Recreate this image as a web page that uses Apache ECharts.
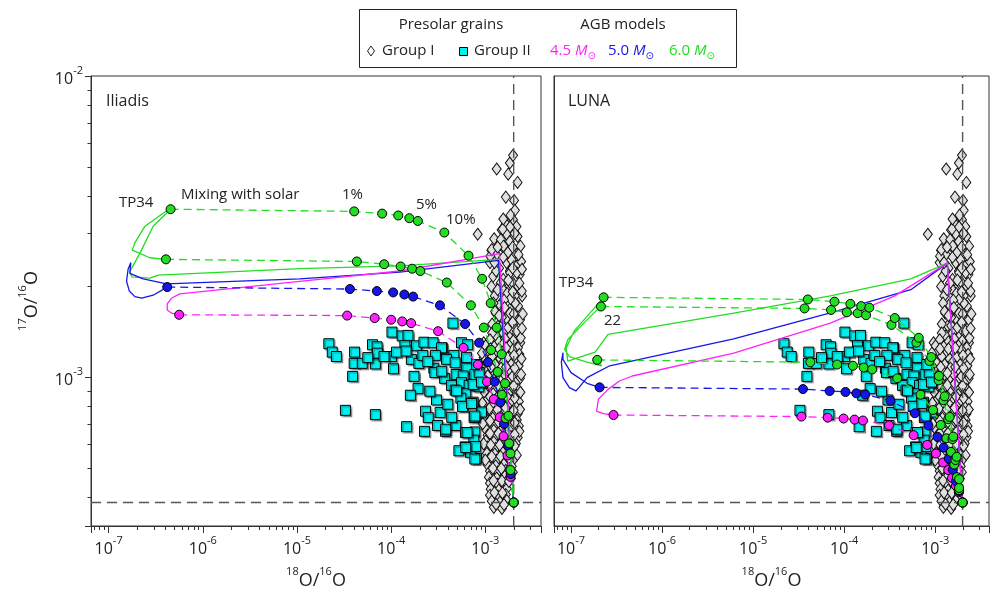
<!DOCTYPE html>
<html>
<head>
<meta charset="utf-8">
<script src="https://cdn.jsdelivr.net/npm/echarts@6/dist/echarts.min.js"></script>
<style>
  html, body { margin: 0; padding: 0; background: #fff; }
  #chart { width: 992px; height: 595px; }
</style>
</head>
<body>
<div id="chart"></div>
<script>
const FONT = '"Open Sans", "DejaVu Sans", sans-serif';
const TEXT = '#222';
const AXIS_COLOR = '#333';
const GREEN = '#22dd22';
const BLUE = '#1616e8';
const MAGENTA = '#ff22ff';
const CYAN = '#00f0f0';

// axis ranges
const X_MIN = 6.5e-8, X_MAX = 3.9e-3;
const Y_MIN = 3.2e-4, Y_MAX = 1e-2;
const SOLAR_18 = 2.0e-3, SOLAR_17 = 3.83e-4;

// presolar grains: [18O/16O, 17O/16O]
const groupI = [
  [1.82e-3,5.14e-3],[1.97e-3,5.45e-3],[1.32e-3,4.91e-3],[1.75e-3,4.72e-3],[2.20e-3,4.43e-3],
  [1.65e-3,3.96e-3],[2.02e-3,3.86e-3],[2.06e-3,3.58e-3],[8.3e-4,2.98e-3],
  [1.65e-3,3.22e-3],[1.97e-3,3.33e-3],[2.14e-3,3.16e-3],[1.49e-3,3.08e-3],[1.24e-3,2.88e-3],
  [1.68e-3,2.99e-3],[2.20e-3,2.93e-3],[1.43e-3,2.75e-3],[1.82e-3,2.82e-3],[2.36e-3,2.72e-3],
  [1.16e-3,2.63e-3],[1.31e-3,2.55e-3],[1.61e-3,2.65e-3],[2.06e-3,2.59e-3],[1.12e-3,2.40e-3],
  [1.68e-3,2.40e-3],[2.14e-3,2.33e-3],[1.82e-3,2.25e-3],[1.21e-3,2.16e-3],[2.32e-3,2.19e-3],
  [1.55e-3,2.11e-3],[1.97e-3,2.05e-3],[1.16e-3,2.00e-3],[2.23e-3,2.00e-3],[1.68e-3,1.95e-3],
  [2.46e-3,1.86e-3],[1.26e-3,1.86e-3],[2.06e-3,1.86e-3],[1.43e-3,1.74e-3],[1.82e-3,1.68e-3],
  [2.23e-3,1.72e-3],[1.29e-3,1.63e-3],[1.68e-3,1.57e-3],[2.14e-3,1.55e-3],[1.37e-3,1.48e-3],
  [1.90e-3,1.42e-3],[1.31e-3,1.37e-3],[2.14e-3,1.385e-3],
  [1.53e-3,3.10e-3],[1.83e-3,3.15e-3],[1.46e-3,2.86e-3],[1.56e-3,2.72e-3],[1.99e-3,2.55e-3],
  [1.83e-3,2.22e-3],[2.16e-3,2.22e-3],[2.44e-3,1.93e-3],[1.69e-3,1.90e-3],[2.07e-3,1.76e-3],
  [1.22e-3,1.76e-3],[1.27e-3,1.65e-3],[1.83e-3,1.63e-3],[2.34e-3,1.55e-3],[1.50e-3,1.48e-3],
  [2.16e-3,1.42e-3],[1.76e-3,1.37e-3],[1.13e-3,2.52e-3],[1.17e-3,2.65e-3],
  [1.55e-3,2.50e-3],[1.90e-3,2.45e-3],[1.40e-3,2.30e-3],[2.40e-3,2.42e-3],[1.50e-3,1.97e-3],
  [1.85e-3,1.82e-3],[1.58e-3,1.80e-3],[2.00e-3,1.62e-3],[1.50e-3,1.58e-3],[1.18e-3,1.50e-3],
  [1.72e-3,1.45e-3],[2.35e-3,1.30e-3],[9.6e-4,1.30e-3],
  [1.30e-3,2.25e-3],[1.95e-3,2.30e-3],[1.45e-3,2.05e-3],[1.75e-3,2.10e-3],[1.35e-3,1.95e-3],
  [1.95e-3,1.92e-3],[1.60e-3,1.70e-3],[1.40e-3,1.60e-3],[1.95e-3,1.52e-3],[1.55e-3,1.40e-3],
  [1.18e-3,1.40e-3],[2.30e-3,2.05e-3],[2.45e-3,2.28e-3],[1.25e-3,2.40e-3],[1.75e-3,2.60e-3],
  [2.25e-3,2.55e-3],[1.35e-3,2.70e-3],[1.95e-3,2.70e-3],[2.05e-3,3.00e-3],[1.85e-3,3.45e-3],
  [1.55e-3,3.35e-3],
  [1.12e-3,1.33e-3],[1.40e-3,1.31e-3],[1.62e-3,1.34e-3],[1.98e-3,1.32e-3],[2.38e-3,1.35e-3],
  [1.01e-3,1.27e-3],[1.24e-3,1.26e-3],[1.52e-3,1.28e-3],[1.80e-3,1.27e-3],[2.22e-3,1.25e-3],
  [1.09e-3,1.22e-3],[1.33e-3,1.20e-3],[1.60e-3,1.21e-3],[1.95e-3,1.23e-3],[2.30e-3,1.19e-3],
  [9.6e-4,1.16e-3],[1.18e-3,1.17e-3],[1.44e-3,1.15e-3],[1.72e-3,1.16e-3],[2.12e-3,1.14e-3],
  [1.04e-3,1.11e-3],[1.27e-3,1.10e-3],[1.55e-3,1.12e-3],[1.88e-3,1.10e-3],[2.26e-3,1.09e-3],
  [9.9e-4,1.06e-3],[1.20e-3,1.05e-3],[1.47e-3,1.07e-3],[1.78e-3,1.05e-3],[2.15e-3,1.04e-3],
  [1.06e-3,1.01e-3],[1.30e-3,1.00e-3],[1.58e-3,1.02e-3],[1.92e-3,1.00e-3],[2.33e-3,9.9e-4],
  [9.5e-4,9.7e-4],[1.17e-3,9.6e-4],[1.43e-3,9.75e-4],[1.74e-3,9.6e-4],[2.10e-3,9.55e-4],
  [1.04e-3,9.25e-4],[1.26e-3,9.2e-4],[1.54e-3,9.3e-4],[1.86e-3,9.15e-4],[2.22e-3,9.1e-4],
  [9.9e-4,8.85e-4],[1.21e-3,8.8e-4],[1.46e-3,8.9e-4],[1.79e-3,8.75e-4],[2.12e-3,8.7e-4],
  [1.06e-3,8.45e-4],[1.29e-3,8.4e-4],[1.57e-3,8.5e-4],[1.91e-3,8.35e-4],[2.27e-3,8.3e-4],
  [9.6e-4,8.05e-4],[1.17e-3,8.0e-4],[1.43e-3,8.1e-4],[1.73e-3,7.98e-4],[2.11e-3,7.95e-4],
  [1.04e-3,7.7e-4],[1.26e-3,7.65e-4],[1.53e-3,7.75e-4],[1.87e-3,7.6e-4],[2.21e-3,7.55e-4],
  [9.9e-4,7.35e-4],[1.20e-3,7.3e-4],[1.46e-3,7.4e-4],[1.78e-3,7.25e-4],[2.16e-3,7.2e-4],
  [1.06e-3,7.0e-4],[1.29e-3,6.95e-4],[1.57e-3,7.05e-4],[1.91e-3,6.9e-4],[2.27e-3,6.88e-4],
  [1.01e-3,6.71e-4],[1.23e-3,6.65e-4],[1.50e-3,6.75e-4],[1.82e-3,6.62e-4],[2.16e-3,6.6e-4],
  [1.06e-3,6.41e-4],[1.29e-3,6.36e-4],[1.57e-3,6.45e-4],[1.91e-3,6.33e-4],[2.21e-3,6.3e-4],
  [1.01e-3,6.13e-4],[1.23e-3,6.08e-4],[1.50e-3,6.16e-4],[1.82e-3,6.05e-4],[2.11e-3,6.02e-4],
  [1.06e-3,5.85e-4],[1.29e-3,5.8e-4],[1.57e-3,5.88e-4],[1.91e-3,5.78e-4],
  [1.04e-3,5.58e-4],[1.26e-3,5.55e-4],[1.53e-3,5.62e-4],[1.87e-3,5.52e-4],[2.16e-3,5.5e-4],
  [1.09e-3,5.34e-4],[1.32e-3,5.3e-4],[1.61e-3,5.37e-4],[1.96e-3,5.28e-4],
  [1.06e-3,5.1e-4],[1.29e-3,5.07e-4],[1.57e-3,5.13e-4],[1.91e-3,5.05e-4],
  [1.12e-3,4.87e-4],[1.36e-3,4.84e-4],[1.65e-3,4.9e-4],[1.96e-3,4.83e-4],
  [1.09e-3,4.65e-4],[1.32e-3,4.62e-4],[1.61e-3,4.68e-4],[1.87e-3,4.6e-4],
  [1.12e-3,4.44e-4],[1.36e-3,4.41e-4],[1.65e-3,4.46e-4],
  [1.14e-3,4.24e-4],[1.39e-3,4.21e-4],[1.69e-3,4.26e-4],
  [1.12e-3,4.05e-4],[1.36e-3,4.02e-4],[1.65e-3,4.07e-4],
  [1.17e-3,3.87e-4],[1.43e-3,3.84e-4],[1.69e-3,3.89e-4],
  [1.23e-3,3.69e-4],[1.50e-3,3.66e-4],
  [2.50e-3,1.62e-3],[2.45e-3,1.45e-3],[2.42e-3,1.15e-3],[2.40e-3,1.02e-3],[2.36e-3,8.9e-4],
  [2.34e-3,7.8e-4],[2.30e-3,6.6e-4],[9.2e-4,1.20e-3],[9.0e-4,1.08e-3],[9.1e-4,9.3e-4],
  [9.3e-4,8.2e-4],[9.4e-4,7.0e-4],[9.6e-4,6.0e-4],[1.0e-3,5.3e-4],
  [1.13e-3,1.24e-3],[1.40e-3,1.24e-3],[1.66e-3,1.25e-3],[2.02e-3,1.18e-3],[1.15e-3,1.08e-3],
  [1.36e-3,1.03e-3],[1.66e-3,1.08e-3],[2.05e-3,1.07e-3],[1.10e-3,9.45e-4],[1.36e-3,9.4e-4],
  [1.64e-3,9.5e-4],[2.00e-3,9.35e-4],[1.12e-3,8.6e-4],[1.36e-3,8.6e-4],[1.70e-3,8.6e-4],
  [2.05e-3,8.5e-4],[1.10e-3,7.85e-4],[1.34e-3,7.8e-4],[1.64e-3,7.9e-4],[2.00e-3,7.75e-4],
  [1.12e-3,7.15e-4],[1.38e-3,7.1e-4],[1.70e-3,7.2e-4],[2.05e-3,7.05e-4],[1.12e-3,6.5e-4],
  [1.38e-3,6.5e-4],[1.70e-3,6.55e-4],[2.05e-3,6.45e-4],[1.14e-3,5.95e-4],[1.42e-3,5.95e-4],
  [1.72e-3,6.0e-4],[2.05e-3,5.9e-4],[1.17e-3,5.45e-4],[1.45e-3,5.45e-4],[1.78e-3,5.4e-4],
  [1.20e-3,4.97e-4],[1.48e-3,4.97e-4],[1.80e-3,4.95e-4],[1.22e-3,4.53e-4],[1.50e-3,4.52e-4],
  [1.78e-3,4.5e-4],[1.25e-3,4.13e-4],[1.52e-3,4.12e-4],[1.30e-3,3.78e-4],[1.58e-3,3.77e-4]
];

const groupII = [
  [4.53e-4,1.51e-3],[1.02e-4,1.41e-3],[1.31e-4,1.37e-3],[1.51e-4,1.375e-3],[2.18e-5,1.29e-3],
  [2.37e-5,1.21e-3],[2.62e-5,1.17e-3],[4.09e-5,1.21e-3],[6.34e-5,1.28e-3],[7.09e-5,1.26e-3],
  [7.15e-5,1.20e-3],[4.05e-5,1.11e-3],[4.94e-5,1.11e-3],[6.8e-5,1.105e-3],[3.9e-5,1.005e-3],
  [1.06e-4,1.065e-3],[1.01e-4,1.17e-3],[1.40e-4,1.27e-3],[1.86e-4,1.27e-3],[2.23e-4,1.305e-3],
  [2.79e-4,1.30e-3],[3.48e-4,1.25e-3],[5.58e-4,1.30e-3],[1.64e-4,1.145e-3],[1.97e-4,1.11e-3],
  [2.17e-4,1.18e-3],[1.14e-4,1.21e-3],[1.44e-4,1.22e-3],[4.64e-4,1.18e-3],[6.32e-4,1.16e-3],
  [3.87e-4,1.145e-3],[4.78e-4,1.115e-3],[2.84e-4,1.07e-3],[2.91e-4,1.035e-3],[3.70e-4,9.9e-4],
  [4.90e-4,1.02e-3],[6.36e-4,1.07e-3],[7.74e-4,1.02e-3],[5.82e-4,1.008e-3],[4.38e-4,9.38e-4],
  [5.58e-4,9.58e-4],[6.73e-4,9.38e-4],[8.53e-4,9.28e-4],[9.2e-4,9.7e-4],[4.78e-4,9.05e-4],
  [6.2e-4,8.8e-4],[5.5e-4,8.51e-4],[7.42e-4,8.25e-4],[5.78e-4,8.0e-4],[9.1e-4,7.65e-4],
  [7.6e-4,7.33e-4],[1.93e-4,9.15e-4],[1.60e-4,8.7e-4],[3.03e-4,8.39e-4],[2.32e-4,7.7e-4],
  [3.31e-4,7.62e-4],[2.48e-4,7.33e-4],[3.11e-4,6.9e-4],[3.78e-4,6.6e-4],[4.86e-4,6.9e-4],
  [2.26e-4,6.6e-4],[1.46e-4,6.84e-4],[3.27e-5,7.75e-4],[6.8e-5,7.5e-4],[6.15e-4,6.54e-4],
  [7.74e-4,6.57e-4],[7.55e-4,6.17e-4],[6.1e-4,5.86e-4],[5.24e-4,5.69e-4],[8.05e-4,5.37e-4],
  [6.97e-4,5.62e-4],[3.43e-4,1.25e-3],[8.6e-4,1.035e-3],[4.95e-4,9.0e-4],[7.42e-4,9.45e-4],
  [7.74e-4,7.42e-4],[5.73e-4,7.98e-4],[3.80e-4,6.71e-4],[6.4e-4,6.54e-4],[7.9e-4,5.88e-4],
  [6.2e-4,5.83e-4],[7.74e-4,5.34e-4],[7.15e-4,8.17e-4],[9.1e-4,9.62e-4],[8.1e-4,1.10e-3],
  [6.5e-4,1.28e-3],[2.95e-4,1.18e-3],[2.45e-4,1.125e-3],[8.4e-5,1.17e-3],[5.65e-5,1.16e-3],
  [4.0e-4,8.12e-4],[4.4e-4,7.35e-4],[2.58e-4,8.97e-4],[3.45e-4,1.045e-3],[1.75e-4,1.005e-3]
];

// Iliadis rates: AGB surface evolution
const ili60Track = [
  [2.0e-3,3.83e-4],[1.37e-3,2.46e-3],[1.24e-4,2.34e-3],[1.07e-5,2.29e-3],[3.36e-7,2.18e-3],
  [2.74e-7,2.13e-3],[1.77e-7,2.15e-3],[1.68e-7,2.24e-3],[2.15e-7,2.58e-3],[2.97e-7,3.17e-3],
  [4.55e-7,3.61e-3],[4.13e-7,3.57e-3],[2.43e-7,3.17e-3],[1.90e-7,2.79e-3],[1.78e-7,2.64e-3],
  [2.74e-7,2.49e-3],[4.06e-7,2.46e-3]
];
const ili50Track = [
  [2.0e-3,3.83e-4],[1.38e-3,2.44e-3],[1.24e-4,2.23e-3],[1.07e-5,2.12e-3],[4.13e-7,2.04e-3],
  [2.33e-7,2.12e-3],[1.68e-7,2.21e-3],[1.72e-7,2.40e-3],[1.61e-7,2.28e-3],[1.55e-7,2.08e-3],
  [1.66e-7,1.93e-3],[1.90e-7,1.85e-3],[2.24e-7,1.83e-3],[2.97e-7,1.87e-3],[4.19e-7,1.99e-3]
];
const ili45Track = [
  [2.0e-3,3.83e-4],[1.41e-3,2.57e-3],[1.24e-4,2.25e-3],[1.07e-5,2.08e-3],[5.71e-7,1.89e-3],
  [4.67e-7,1.83e-3],[4.19e-7,1.75e-3],[4.2e-7,1.67e-3],[4.67e-7,1.63e-3],[5.61e-7,1.61e-3]
];
// Iliadis rates: mixing with solar (1,2,3,4,5,10,...,90 %)
const ili60MixA = [
  [4.55e-7,3.61e-3],[4.05e-5,3.55e-3],[8.02e-5,3.49e-3],[1.19e-4,3.44e-3],[1.56e-4,3.37e-3],
  [1.92e-4,3.30e-3],[3.67e-4,3.02e-3],[6.63e-4,2.53e-3],[9.25e-4,2.12e-3],[1.14e-3,1.76e-3],
  [1.32e-3,1.46e-3],[1.49e-3,1.19e-3],[1.62e-3,9.53e-4],[1.76e-3,7.43e-4],[1.85e-3,5.57e-4],
  [2.0e-3,3.83e-4]
];
const ili60MixB = [
  [4.06e-7,2.46e-3],[4.32e-5,2.42e-3],[8.43e-5,2.37e-3],[1.26e-4,2.33e-3],[1.67e-4,2.29e-3],
  [2.04e-4,2.25e-3],[3.90e-4,2.06e-3],[7.02e-4,1.73e-3],[9.64e-4,1.46e-3],[1.15e-3,1.23e-3],
  [1.35e-3,1.04e-3],[1.50e-3,8.74e-4],[1.64e-3,7.30e-4],[1.79e-3,6.02e-4],[1.85e-3,4.91e-4],
  [2.0e-3,3.83e-4]
];
const ili50Mix = [
  [4.19e-7,1.99e-3],[3.65e-5,1.96e-3],[7.05e-5,1.93e-3],[1.05e-4,1.91e-3],[1.38e-4,1.88e-3],
  [1.71e-4,1.85e-3],[3.30e-4,1.73e-3],[6.10e-4,1.50e-3],[8.60e-4,1.30e-3],[1.07e-3,1.12e-3],
  [1.26e-3,9.65e-4],[1.44e-3,8.24e-4],[1.58e-3,6.99e-4],[1.75e-3,5.90e-4],[1.86e-3,4.76e-4],
  [2.0e-3,3.83e-4]
];
const ili45Mix = [
  [5.61e-7,1.61e-3],[3.41e-5,1.60e-3],[6.68e-5,1.57e-3],[1.0e-4,1.55e-3],[1.31e-4,1.53e-3],
  [1.63e-4,1.51e-3],[3.15e-4,1.42e-3],[5.87e-4,1.25e-3],[8.32e-4,1.10e-3],[1.04e-3,9.65e-4],
  [1.23e-3,8.44e-4],[1.42e-3,7.35e-4],[1.56e-3,6.36e-4],[1.72e-3,5.49e-4],[1.85e-3,4.66e-4],
  [2.0e-3,3.83e-4]
];

// LUNA rates
const luna60Track = [
  [2.0e-3,3.83e-4],[1.36e-3,2.39e-3],[5.40e-4,2.12e-3],[7.05e-5,1.86e-3],[6.12e-6,1.63e-3],
  [2.55e-7,1.385e-3],[1.84e-7,1.21e-3],[9.2e-8,1.13e-3],[8.85e-8,1.25e-3],[1.08e-7,1.42e-3],
  [1.50e-7,1.59e-3],[2.28e-7,1.84e-3],[2.13e-7,1.72e-3],[1.38e-7,1.51e-3],[9.2e-8,1.33e-3],
  [8.5e-8,1.235e-3],[9.6e-8,1.17e-3],[1.50e-7,1.12e-3],[2.17e-7,1.09e-3],[1.94e-7,1.14e-3]
];
const luna50Track = [
  [2.0e-3,3.83e-4],[1.36e-3,2.39e-3],[5.40e-4,1.95e-3],[7.05e-5,1.635e-3],[6.12e-6,1.34e-3],
  [2.66e-7,1.09e-3],[1.50e-7,9.95e-4],[1.22e-7,9.22e-4],[1.13e-7,8.99e-4],[9.6e-8,9.22e-4],
  [8.15e-8,9.95e-4],[7.83e-8,1.12e-3],[8.15e-8,1.205e-3],[8.15e-8,1.145e-3],[1.0e-7,1.034e-3],
  [1.50e-7,9.53e-4],[2.06e-7,9.24e-4]
];
const luna45Track = [
  [2.0e-3,3.83e-4],[1.36e-3,2.39e-3],[3.60e-4,1.86e-3],[7.05e-5,1.51e-3],[6.12e-6,1.20e-3],
  [4.7e-7,1.008e-3],[3.40e-7,9.7e-4],[2.55e-7,9.1e-4],[2.0e-7,8.44e-4],[1.91e-7,7.71e-4],
  [2.26e-7,7.56e-4],[2.93e-7,7.48e-4]
];
const luna60MixA = [
  [2.28e-7,1.84e-3],[3.99e-5,1.81e-3],[7.83e-5,1.78e-3],[1.17e-4,1.75e-3],[1.54e-4,1.72e-3],
  [1.89e-4,1.70e-3],[3.60e-4,1.57e-3],[6.60e-4,1.35e-3],[9.07e-4,1.165e-3],[1.10e-3,1.008e-3],
  [1.27e-3,8.63e-4],[1.44e-3,7.37e-4],[1.58e-3,6.34e-4],[1.72e-3,5.43e-4],[1.83e-3,4.58e-4],
  [2.0e-3,3.83e-4]
];
const luna60MixB = [
  [2.13e-7,1.715e-3],[3.67e-5,1.69e-3],[7.18e-5,1.67e-3],[1.07e-4,1.64e-3],[1.41e-4,1.63e-3],
  [1.74e-4,1.605e-3],[3.31e-4,1.49e-3],[6.21e-4,1.30e-3],[8.64e-4,1.13e-3],[1.09e-3,9.75e-4],
  [1.23e-3,8.37e-4],[1.39e-3,7.24e-4],[1.55e-3,6.22e-4],[1.67e-3,5.30e-4],[1.83e-3,4.28e-4],
  [2.0e-3,3.83e-4]
];
const luna60MixC = [
  [1.94e-7,1.14e-3],[4.25e-5,1.12e-3],[8.36e-5,1.10e-3],[1.25e-4,1.09e-3],[1.64e-4,1.075e-3],
  [2.03e-4,1.06e-3],[3.83e-4,9.9e-4],[6.90e-4,8.73e-4],[9.48e-4,7.77e-4],[1.15e-3,6.93e-4],
  [1.33e-3,6.26e-4],[1.49e-3,5.64e-4],[1.62e-3,5.12e-4],[1.73e-3,4.65e-4],[1.83e-3,4.21e-4],
  [2.0e-3,3.83e-4]
];
const luna50Mix = [
  [2.06e-7,9.24e-4],[3.53e-5,9.12e-4],[6.93e-5,8.99e-4],[1.035e-4,8.92e-4],[1.36e-4,8.83e-4],
  [1.70e-4,8.75e-4],[3.23e-4,8.34e-4],[5.98e-4,7.58e-4],[8.43e-4,6.90e-4],[1.06e-3,6.33e-4],
  [1.24e-3,5.83e-4],[1.41e-3,5.36e-4],[1.56e-3,4.92e-4],[1.69e-3,4.51e-4],[1.82e-3,4.18e-4],
  [2.0e-3,3.83e-4]
];
const luna45Mix = [
  [2.93e-7,7.48e-4],[3.39e-5,7.39e-4],[6.60e-5,7.33e-4],[9.86e-5,7.28e-4],[1.30e-4,7.22e-4],
  [1.61e-4,7.17e-4],[3.11e-4,6.91e-4],[5.80e-4,6.41e-4],[8.18e-4,5.95e-4],[1.02e-3,5.57e-4],
  [1.22e-3,5.20e-4],[1.39e-3,4.91e-4],[1.53e-3,4.62e-4],[1.69e-3,4.35e-4],[1.82e-3,4.14e-4],
  [2.0e-3,3.83e-4]
];

// solar reference lines
const solarV = [[SOLAR_18, Y_MIN], [SOLAR_18, Y_MAX]];
const solarH = [[X_MIN, SOLAR_17], [X_MAX, SOLAR_17]];

// minor tick values 2..9 x 10^n
const minorX = [], minorY = [];
for (let e = -8; e <= -3; e++) for (let k = 2; k <= 9; k++) minorX.push(k * Math.pow(10, e));
for (let e = -4; e <= -3; e++) for (let k = 2; k <= 9; k++) minorY.push(k * Math.pow(10, e));

const POW_RICH = {
  b: { fontSize: 16, fontFamily: FONT, color: TEXT, lineHeight: 22, verticalAlign: 'bottom' },
  s: { fontSize: 11, fontFamily: FONT, color: TEXT, lineHeight: 12, verticalAlign: 'top' }
};
const NAME_RICH = {
  b: { fontSize: 18, fontFamily: FONT, color: TEXT, lineHeight: 24, verticalAlign: 'bottom' },
  s: { fontSize: 11, fontFamily: FONT, color: TEXT, lineHeight: 12, verticalAlign: 'top' }
};

function powLabel(v) {
  const e = Math.log10(v), r = Math.round(e);
  if (Math.abs(e - r) > 1e-6) return '';
  return '{b|10}{s|' + r + '}';
}

const gridLefts = [91, 554];

function xAxisFor(i) {
  return {
    type: 'log', logBase: 10, gridIndex: i, min: X_MIN, max: X_MAX,
    axisLine: { show: true, lineStyle: { color: AXIS_COLOR, width: 1 } },
    axisTick: { show: true, length: 7, lineStyle: { color: AXIS_COLOR } },
    axisLabel: { margin: 9, formatter: powLabel, rich: POW_RICH },
    splitLine: { show: false },
    name: '{s|18}{b|O/}{s|16}{b|O}', nameLocation: 'middle', nameGap: 40,
    nameTextStyle: { rich: NAME_RICH }
  };
}
function yAxisFor(i) {
  const left = i === 0;
  return {
    type: 'log', logBase: 10, gridIndex: i, min: Y_MIN, max: Y_MAX,
    axisLine: { show: true, lineStyle: { color: AXIS_COLOR, width: 1 } },
    axisTick: { show: left, length: 6, lineStyle: { color: AXIS_COLOR } },
    axisLabel: { show: left, margin: 8, formatter: powLabel, rich: POW_RICH, showMaxLabel: true },
    splitLine: { show: false },
    name: left ? '{s|17}{b|O/}{s|16}{b|O}' : '', nameLocation: 'middle', nameRotate: 90, nameGap: 50,
    nameTextStyle: { rich: NAME_RICH }
  };
}

function minorTicks(i, axis, values) {
  return {
    type: 'custom', xAxisIndex: i, yAxisIndex: i, silent: true, clip: false, z: 3,
    data: values.map(v => axis === 'x' ? [v, Y_MAX] : [X_MAX, v]),
    renderItem(params, api) {
      const cs = params.coordSys;
      const p = api.coord([api.value(0), api.value(1)]);
      if (axis === 'x') {
        if (p[0] <= cs.x + 0.5 || p[0] >= cs.x + cs.width) return null;
        const x = Math.round(p[0]) + 0.5, y0 = cs.y + cs.height;
        return { type: 'line', shape: { x1: x, y1: y0, x2: x, y2: y0 + 4 }, style: { stroke: AXIS_COLOR, lineWidth: 1 } };
      }
      if (p[1] <= cs.y || p[1] >= cs.y + cs.height - 0.5) return null;
      const y = Math.round(p[1]) + 0.5, x0 = cs.x;
      return { type: 'line', shape: { x1: x0, y1: y, x2: x0 - 3.5, y2: y }, style: { stroke: AXIS_COLOR, lineWidth: 1 } };
    }
  };
}

function refLine(i, data) {
  return { type: 'line', xAxisIndex: i, yAxisIndex: i, data, symbol: 'none', silent: true,
    lineStyle: { color: '#555', width: 1.4, type: [10, 6] } };
}
function grainSeries(i) {
  return [
    refLine(i, solarV), refLine(i, solarH),
    {
      type: 'scatter', xAxisIndex: i, yAxisIndex: i, data: groupI,
      symbol: 'diamond', symbolSize: [9, 12],
      itemStyle: { color: '#e0e0e0', borderColor: '#111', borderWidth: 1, opacity: 1 }
    },
    {
      type: 'scatter', xAxisIndex: i, yAxisIndex: i, data: groupII,
      symbol: 'rect', symbolSize: 10,
      itemStyle: { color: CYAN, borderColor: '#000', borderWidth: 1, opacity: 1,
        shadowColor: 'rgba(0,0,0,0.35)', shadowBlur: 1, shadowOffsetX: 1.5, shadowOffsetY: 1.5 }
    }
  ];
}
function track(i, data, color) {
  return { type: 'line', xAxisIndex: i, yAxisIndex: i, data, symbol: 'none',
    lineStyle: { color, width: 1.3 } };
}
function mix(i, data, color) {
  return { type: 'line', xAxisIndex: i, yAxisIndex: i, data, symbol: 'circle', symbolSize: 9,
    lineStyle: { color, width: 1.3, type: [8, 5] },
    itemStyle: { color, borderColor: '#000', borderWidth: 1, opacity: 1 } };
}

const series = [
  ...grainSeries(0),
  track(0, ili60Track, GREEN), track(0, ili50Track, BLUE), track(0, ili45Track, MAGENTA),
  mix(0, ili45Mix, MAGENTA), mix(0, ili50Mix, BLUE), mix(0, ili60MixB, GREEN), mix(0, ili60MixA, GREEN),
  minorTicks(0, 'x', minorX), minorTicks(0, 'y', minorY),
  ...grainSeries(1),
  track(1, luna60Track, GREEN), track(1, luna50Track, BLUE), track(1, luna45Track, MAGENTA),
  mix(1, luna45Mix, MAGENTA), mix(1, luna50Mix, BLUE), mix(1, luna60MixC, GREEN),
  mix(1, luna60MixB, GREEN), mix(1, luna60MixA, GREEN),
  minorTicks(1, 'x', minorX)
];

function label(x, y, text, size, extra) {
  return { type: 'text', x, y, z: 10,
    style: Object.assign({ text, fontSize: size || 15, fontFamily: FONT, fill: TEXT,
      align: 'left', verticalAlign: 'middle' }, extra || {}) };
}
function massLabel(x, mass, color) {
  return { type: 'text', x, y: 51, z: 10,
    style: { text: '{n|' + mass + ' }{i|M}{o|\u2299}', align: 'left', verticalAlign: 'middle',
      rich: {
        n: { fontSize: 15, fontFamily: FONT, fill: color, lineHeight: 20, verticalAlign: 'middle' },
        i: { fontSize: 15, fontFamily: FONT, fill: color, fontStyle: 'italic', lineHeight: 20, verticalAlign: 'middle' },
        o: { fontSize: 10, fontFamily: '"DejaVu Sans", sans-serif', fill: color, lineHeight: 11, verticalAlign: 'bottom' }
      } } };
}

const option = {
  animation: false,
  backgroundColor: '#fff',
  grid: gridLefts.map(l => ({ left: l, top: 76, width: 450, height: 451, show: true,
    borderColor: AXIS_COLOR, borderWidth: 1, containLabel: false })),
  xAxis: [xAxisFor(0), xAxisFor(1)],
  yAxis: [yAxisFor(0), yAxisFor(1)],
  series,
  graphic: [
    { type: 'rect', z: 9, shape: { x: 359.5, y: 9.5, width: 377, height: 58 },
      style: { fill: '#fff', stroke: '#222', lineWidth: 1 } },
    label(451, 25, 'Presolar grains', 15, { align: 'center' }),
    label(623, 25, 'AGB models', 15, { align: 'center' }),
    { type: 'polygon', z: 10, shape: { points: [[371, 46], [374.5, 51], [371, 56], [367.5, 51]] },
      style: { fill: '#fff', stroke: '#222', lineWidth: 1 } },
    label(382, 51, 'Group I'),
    { type: 'rect', z: 10, shape: { x: 459.5, y: 47.5, width: 8, height: 8 },
      style: { fill: CYAN, stroke: '#000', lineWidth: 1 } },
    label(474, 51, 'Group II'),
    massLabel(550, '4.5', MAGENTA),
    massLabel(608, '5.0', BLUE),
    massLabel(669, '6.0', GREEN),
    label(106, 101, 'Iliadis', 16),
    label(568, 101, 'LUNA', 16),
    label(119, 203, 'TP34', 15),
    label(181, 195, 'Mixing with solar', 15),
    label(342, 195, '1%', 15),
    label(416, 205, '5%', 15),
    label(446, 220, '10%', 15),
    label(559, 283, 'TP34', 15),
    label(604, 321, '22', 15)
  ]
};

const chart = echarts.init(document.getElementById('chart'));
chart.setOption(option);
</script>
</body>
</html>
